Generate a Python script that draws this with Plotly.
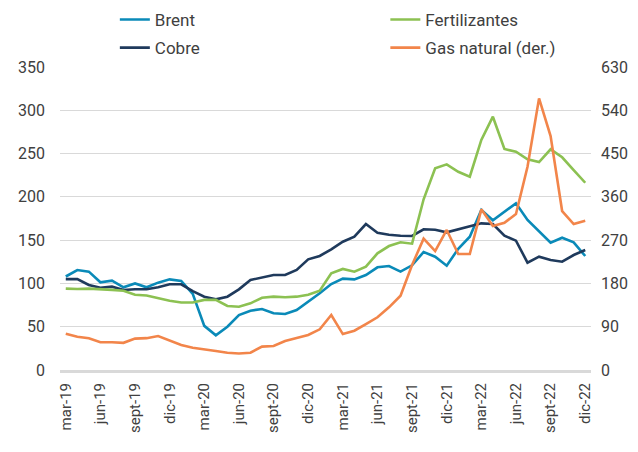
import plotly.graph_objects as go

months = ["mar-19","abr-19","may-19","jun-19","jul-19","ago-19","sept-19","oct-19","nov-19","dic-19",
          "ene-20","feb-20","mar-20","abr-20","may-20","jun-20","jul-20","ago-20","sept-20","oct-20","nov-20","dic-20",
          "ene-21","feb-21","mar-21","abr-21","may-21","jun-21","jul-21","ago-21","sept-21","oct-21","nov-21","dic-21",
          "ene-22","feb-22","mar-22","abr-22","may-22","jun-22","jul-22","ago-22","sept-22","oct-22","nov-22","dic-22"]

brent = [108, 115.5, 113.6, 101.3, 103.2, 95.5, 100, 95.5, 100.9, 104.7, 102.8, 88, 51, 40, 50, 63.5,
         68.5, 70.5, 65.5, 64.7, 69.3, 78.9, 88.6, 99.3, 105.5, 104.7, 109.7, 118.6, 120.1, 113.6, 120.9,
         136.3, 130.9, 120.5, 140, 154, 185, 173, 183, 192.5, 173.3, 159.7, 147, 152.8, 147.5, 131.7]

cobre = [105, 105, 98.2, 95, 96.3, 92.4, 93.2, 93.2, 95.5, 99, 99, 91, 84.7, 81.6, 84.7, 93.2,
         104, 106.6, 109.7, 109.7, 115.5, 127.8, 131.7, 139.4, 148.2, 154, 168.6, 158.6, 156.3, 155.1, 154.8,
         162.5, 162, 159, 162.5, 165.5, 169.4, 168.6, 155.1, 149.4, 124, 130.9, 127, 125.1, 132.8, 138.6]

fertilizantes = [94, 93.5, 94, 93.5, 92.5, 91.5, 87, 86, 83, 80, 78, 78, 81, 81, 73.9, 73.1,
                 77, 83.5, 84.7, 84, 84.7, 87, 91.6, 111.7, 116.7, 113.6, 119.3, 134.8, 143.2, 147.5, 145.9,
                 197.2, 233, 237.6, 229, 223.3, 265.7, 292.6, 255.3, 252.1, 243.4, 240.2, 254.9, 245.7, 231, 216.3]

gas_natural = [75.6, 69.3, 65.9, 57.6, 57.6, 56.5, 65.2, 66.2, 70.7, 61.7, 52, 46.4, 43.7, 39.6, 36, 34.4,
               36, 48.6, 49.9, 60.3, 66.6, 72.7, 84.6, 114.3, 74.7, 81.7, 95.6, 109.6, 130.3, 154.4, 218.3,
               273.1, 247.3, 291.1, 241.2, 241.2, 334.1, 299.3, 306.2, 324.4, 422.6, 564.8, 486.5, 330.5, 303.5, 310.3]

tick_labels = months[::3]
left_ticks = [0, 50, 100, 150, 200, 250, 300, 350]
right_ticks = [0, 90, 180, 270, 360, 450, 540, 630]

FONT = "Roboto"
TXT = "#404040"

fig = go.Figure()
fig.add_trace(go.Scatter(x=months, y=brent, name="Brent", mode="lines", legendgroup="a",
                         line=dict(color="#0A8AB8", width=2.6), legend="legend"))
fig.add_trace(go.Scatter(x=months, y=cobre, name="Cobre", mode="lines", legendgroup="b",
                         line=dict(color="#1F3A5C", width=2.6), legend="legend"))
fig.add_trace(go.Scatter(x=months, y=fertilizantes, name="Fertilizantes", mode="lines", legendgroup="c",
                         line=dict(color="#8CC152", width=2.6), legend="legend2"))
fig.add_trace(go.Scatter(x=months, y=gas_natural, name="Gas natural (der.)", mode="lines", legendgroup="d",
                         line=dict(color="#F2854A", width=2.6), yaxis="y2", legend="legend2"))

fig.update_layout(
    width=638, height=452,
    margin=dict(l=60, r=47, t=67, b=82, autoexpand=False),
    paper_bgcolor="white", plot_bgcolor="white",
    font=dict(family=FONT, size=16, color=TXT),
    xaxis=dict(type="category", categoryorder="array", categoryarray=months,
               range=[-0.5, 45.5], tickmode="array", tickvals=tick_labels, ticktext=tick_labels,
               tickangle=-90, tickfont=dict(size=15, color=TXT), showgrid=False,
               showline=True, linecolor="#D9D9D9", linewidth=3, ticks="", ticklabelstandoff=4,
               automargin=False),
    yaxis=dict(range=[0, 350], tickvals=left_ticks, showgrid=True, gridcolor="#D9D9D9",
               gridwidth=1, zeroline=False, ticks="", ticklabelstandoff=14,
               tickfont=dict(size=16, color=TXT), automargin=False),
    yaxis2=dict(range=[0, 630], tickvals=right_ticks, overlaying="y", side="right",
                showgrid=False, zeroline=False, ticks="", ticklabelstandoff=9,
                tickfont=dict(size=16, color=TXT), automargin=False),
    legend=dict(xref="container", yref="container", x=0.18, y=1.0 - 2 / 452, xanchor="left", yanchor="top",
                orientation="v", font=dict(size=17, color=TXT), tracegroupgap=3,
                itemwidth=30, bgcolor="rgba(0,0,0,0)"),
    legend2=dict(xref="container", yref="container", x=0.604, y=1.0 - 2 / 452, xanchor="left", yanchor="top",
                 orientation="v", font=dict(size=17, color=TXT), tracegroupgap=3,
                 itemwidth=30, bgcolor="rgba(0,0,0,0)"),
    showlegend=True,
)

fig.write_html("out.html", config={"displayModeBar": False},
               post_script="document.body.style.margin='0px';")
